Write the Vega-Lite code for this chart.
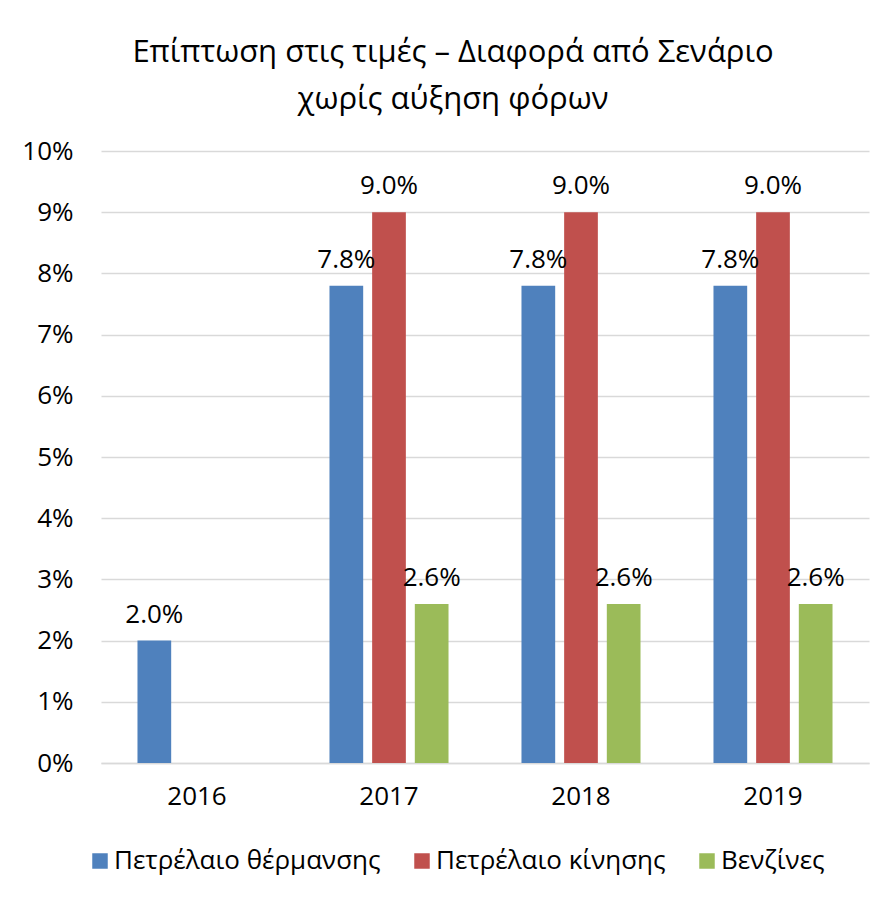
{
  "$schema": "https://vega.github.io/schema/vega-lite/v6.json",
  "width": 768,
  "height": 612,
  "autosize": {"type": "none"},
  "padding": {"left": 101, "top": 151, "right": 21, "bottom": 135},
  "background": "white",
  "title": {
    "text": ["Επίπτωση στις τιμές – Διαφορά από Σενάριο", "χωρίς αύξηση φόρων"],
    "font": "Open Sans",
    "fontSize": 31,
    "fontWeight": "normal",
    "color": "#000000",
    "lineHeight": 47,
    "anchor": "middle",
    "dx": -32,
    "offset": 22
  },
  "data": {
    "values": [
      {"year": "2016", "series": "Πετρέλαιο θέρμανσης", "value": 0.020},
      {"year": "2017", "series": "Πετρέλαιο θέρμανσης", "value": 0.078},
      {"year": "2017", "series": "Πετρέλαιο κίνησης", "value": 0.090},
      {"year": "2017", "series": "Βενζίνες", "value": 0.026},
      {"year": "2018", "series": "Πετρέλαιο θέρμανσης", "value": 0.078},
      {"year": "2018", "series": "Πετρέλαιο κίνησης", "value": 0.090},
      {"year": "2018", "series": "Βενζίνες", "value": 0.026},
      {"year": "2019", "series": "Πετρέλαιο θέρμανσης", "value": 0.078},
      {"year": "2019", "series": "Πετρέλαιο κίνησης", "value": 0.090},
      {"year": "2019", "series": "Βενζίνες", "value": 0.026}
    ]
  },
  "encoding": {
    "x": {
      "field": "year",
      "type": "nominal",
      "scale": {"paddingInner": 0.38, "paddingOuter": 0.19},
      "axis": {
        "title": null,
        "labelAngle": 0,
        "labelFont": "Open Sans",
        "labelFontSize": 26,
        "labelColor": "#000000",
        "labelPadding": 20,
        "ticks": false,
        "domain": true,
        "domainColor": "#D9D9D9",
        "domainWidth": 1.5
      }
    },
    "xOffset": {
      "field": "series",
      "type": "nominal",
      "scale": {
        "domain": ["Πετρέλαιο θέρμανσης", "Πετρέλαιο κίνησης", "Βενζίνες"],
        "paddingInner": 0.21,
        "paddingOuter": 0
      }
    },
    "y": {
      "field": "value",
      "type": "quantitative",
      "scale": {"domain": [0, 0.1], "nice": false},
      "axis": {
        "title": null,
        "format": ".0%",
        "values": [0, 0.01, 0.02, 0.03, 0.04, 0.05, 0.06, 0.07, 0.08, 0.09, 0.1],
        "labelOverlap": false,
        "labelFont": "Open Sans",
        "labelFontSize": 26,
        "labelColor": "#000000",
        "labelPadding": 28,
        "ticks": false,
        "domain": false,
        "grid": true,
        "gridColor": "#D9D9D9",
        "gridWidth": 1.5
      }
    }
  },
  "layer": [
    {
      "mark": {"type": "bar"},
      "encoding": {
        "color": {
          "field": "series",
          "type": "nominal",
          "scale": {
            "domain": ["Πετρέλαιο θέρμανσης", "Πετρέλαιο κίνησης", "Βενζίνες"],
            "range": ["#4F81BD", "#C0504D", "#9BBB59"]
          },
          "legend": {
            "title": null,
            "orient": "none",
            "direction": "horizontal",
            "legendX": -14,
            "legendY": 697,
            "symbolType": "square",
            "symbolSize": 240,
            "symbolStrokeWidth": 0,
            "labelFont": "Open Sans",
            "labelFontSize": 26,
            "labelColor": "#000000",
            "labelOffset": 1,
            "columnPadding": 28,
            "labelLimit": 400
          }
        }
      }
    },
    {
      "mark": {
        "type": "text",
        "baseline": "alphabetic",
        "align": "center",
        "dy": -18,
        "font": "Open Sans",
        "fontSize": 26,
        "color": "#000000"
      },
      "encoding": {
        "text": {"field": "value", "type": "quantitative", "format": ".1%"}
      }
    }
  ],
  "config": {
    "view": {"stroke": null}
  }
}
